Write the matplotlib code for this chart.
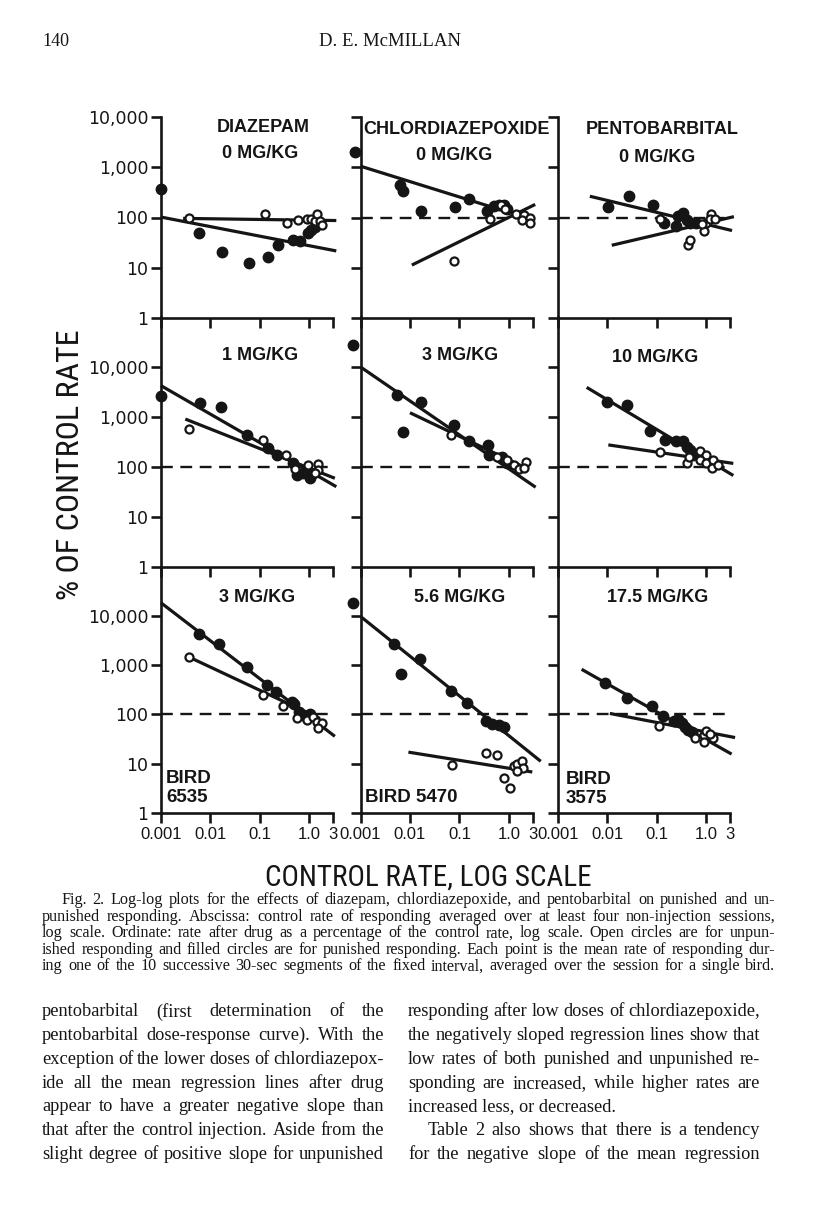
import numpy as np
import matplotlib
matplotlib.use("Agg")
import matplotlib.pyplot as plt
from matplotlib.ticker import FixedLocator, FixedFormatter, NullLocator
from matplotlib import font_manager

# page size in pixels (dpi = 100)
W, H = 816, 1207
INK = "#151515"

# ---- data (x = control rate, y = % of control rate) ----
# diazepam 0 mg/kg
dz0_fx = [0.001, 0.0059, 0.0168, 0.061, 0.143, 0.228, 0.47, 0.64, 0.95, 1.1, 1.29]
dz0_fy = [374, 50, 20.7, 12.5, 16.5, 29, 35, 34, 50, 56, 65]
dz0_ox = [0.0036, 0.126, 0.346, 0.58, 0.88, 1.1, 1.29, 1.4, 1.63, 1.76]
dz0_oy = [100, 116, 78, 91, 95, 95, 85, 116, 85, 70]
dz0_fit_f = [[0.001, 3.5], [102, 21.6]]
dz0_fit_o = [[0.0028, 3.5], [96, 87]]

# chlordiazepoxide 0 mg/kg
cd0_fx = [0.00077, 0.0063, 0.0074, 0.0169, 0.080, 0.154, 0.363, 0.494, 0.62, 0.79, 0.92]
cd0_fy = [2000, 443, 339, 137, 160, 230, 137, 166, 174, 174, 148]
cd0_ox = [0.076, 0.41, 0.68, 0.85, 1.36, 2.0, 1.86, 2.65, 2.65]
cd0_oy = [13.6, 93, 174, 150, 117, 114, 89, 97, 76]
cd0_fit_f = [[0.001, 2.74], [1050, 93]]
cd0_fit_o = [[0.0109, 3.4], [11.3, 182]]

# pentobarbital 0 mg/kg
pb0_fx = [0.0104, 0.0272, 0.0818, 0.142, 0.242, 0.269, 0.34, 0.398, 0.465, 0.63]
pb0_fy = [160, 265, 174, 76, 68, 109, 121, 89, 79, 76]
pb0_ox = [0.115, 0.43, 0.46, 0.89, 1.0, 1.23, 1.18, 1.49, 0.8]
pb0_oy = [93, 29, 36, 54, 79, 117, 93, 93, 73]
pb0_fit_f = [[0.0044, 3.3], [265, 55]]
pb0_fit_o = [[0.0122, 3.6], [28, 104]]

# diazepam 1 mg/kg
dz1_fx = [0.001, 0.0061, 0.0163, 0.056, 0.147, 0.217, 0.47, 0.55, 0.75, 1.02, 1.1]
dz1_fy = [2660, 1900, 1580, 439, 237, 174, 119, 69, 75, 59, 69]
dz1_ox = [0.0036, 0.117, 0.335, 0.51, 0.95, 1.51, 1.51, 1.29]
dz1_oy = [571, 348, 174, 90, 110, 115, 87, 75]
dz1_fit_f = [[0.001, 3.5], [4220, 40]]
dz1_fit_o = [[0.0031, 3.27], [905, 59]]

# chlordiazepoxide 3 mg/kg
cd1_fx = [0.00071, 0.0054, 0.0074, 0.0169, 0.0766, 0.154, 0.373, 0.39, 0.73, 0.92]
cd1_fy = [28000, 2770, 498, 2000, 681, 322, 275, 172, 160, 117]
cd1_ox = [0.0686, 0.58, 0.92, 1.26, 1.59, 2.17, 2.0]
cd1_oy = [427, 160, 136, 111, 92, 127, 95]
cd1_fit_f = [[0.001, 3.47], [10000, 39]]
cd1_fit_o = [[0.01, 2.35], [1210, 92]]

# pentobarbital 10 mg/kg
pb1_fx = [0.0096, 0.0251, 0.0723, 0.145, 0.242, 0.34, 0.4, 0.465, 0.54]
pb1_fy = [2000, 1740, 529, 347, 322, 322, 255, 217, 172]
pb1_ox = [0.115, 0.4, 0.45, 0.74, 1.0, 0.74, 1.0, 1.33, 1.27, 1.73]
pb1_oy = [195, 122, 160, 208, 172, 136, 122, 136, 95, 111]
pb1_fit_f = [[0.0038, 3.5], [3900, 67]]
pb1_fit_o = [[0.0104, 3.5], [275, 117]]

# diazepam 3 mg/kg
dz2_fx = [0.0059, 0.0149, 0.0538, 0.136, 0.21, 0.436, 0.49, 0.62, 0.75, 1.02]
dz2_fy = [4380, 2750, 903, 404, 292, 178, 165, 112, 99, 100]
dz2_ox = [0.0036, 0.113, 0.296, 0.55, 0.88, 1.19, 1.4, 1.76, 1.47]
dz2_oy = [1480, 243, 148, 86, 79, 89, 70, 67, 54]
dz2_fit_f = [[0.001, 3.27], [18500, 36]]
dz2_fit_o = [[0.0036, 1.63], [1480, 83]]

# chlordiazepoxide 5.6 mg/kg
cd2_fx = [0.00071, 0.0048, 0.0065, 0.016, 0.0677, 0.143, 0.352, 0.46, 0.62, 0.81]
cd2_fy = [18200, 2720, 674, 1310, 298, 175, 74, 63, 61, 55]
cd2_ox = [0.0708, 0.352, 0.58, 0.79, 1.04, 1.26, 1.47, 1.86, 1.95, 1.43]
cd2_oy = [9.6, 16.4, 15.3, 5.2, 3.2, 8.9, 9.9, 11.2, 8.2, 7.0]
cd2_fit_f = [[0.001, 4.4], [9800, 11.2]]
cd2_fit_o = [[0.0093, 2.97], [17.2, 6.8]]

# pentobarbital 17.5 mg/kg
pb2_fx = [0.0089, 0.0244, 0.078, 0.134, 0.22, 0.27, 0.315, 0.37, 0.43, 0.5]
pb2_fy = [444, 218, 150, 95, 74, 81, 66, 57, 49, 44]
pb2_ox = [0.111, 0.59, 0.89, 1.0, 0.89, 1.37, 1.17]
pb2_oy = [59, 33, 39, 46, 28, 33, 40]
pb2_fit_f = [[0.003, 3.23], [826, 15.7]]
pb2_fit_o = [[0.0112, 3.8], [105, 34]]

drugs = ["DIAZEPAM", "CHLORDIAZEPOXIDE", "PENTOBARBITAL"]
doses = [["0 MG/KG", "0 MG/KG", "0 MG/KG"],
         ["1 MG/KG", "3 MG/KG", "10 MG/KG"],
         ["3 MG/KG", "5.6 MG/KG", "17.5 MG/KG"]]
birds = ["BIRD\n6535", "BIRD 5470", "BIRD\n3575"]
x_ticks = [0.001, 0.01, 0.1, 1.0, 3]
x_ticklabels = ["0.001", "0.01", "0.1", "1.0", "3"]
y_ticks = [1, 10, 100, 1000, 10000]
y_ticklabels = ["1", "10", "100", "1,000", "10,000"]

panels = [
    [(dz0_fx, dz0_fy, dz0_ox, dz0_oy, dz0_fit_f, dz0_fit_o),
     (cd0_fx, cd0_fy, cd0_ox, cd0_oy, cd0_fit_f, cd0_fit_o),
     (pb0_fx, pb0_fy, pb0_ox, pb0_oy, pb0_fit_f, pb0_fit_o)],
    [(dz1_fx, dz1_fy, dz1_ox, dz1_oy, dz1_fit_f, dz1_fit_o),
     (cd1_fx, cd1_fy, cd1_ox, cd1_oy, cd1_fit_f, cd1_fit_o),
     (pb1_fx, pb1_fy, pb1_ox, pb1_oy, pb1_fit_f, pb1_fit_o)],
    [(dz2_fx, dz2_fy, dz2_ox, dz2_oy, dz2_fit_f, dz2_fit_o),
     (cd2_fx, cd2_fy, cd2_ox, cd2_oy, cd2_fit_f, cd2_fit_o),
     (pb2_fx, pb2_fy, pb2_ox, pb2_oy, pb2_fit_f, pb2_fit_o)],
]

# fonts: a condensed sans for the big axis titles if one is installed
fonts = font_manager.fontManager.ttflist
names = {f.name for f in fonts}
LAB_KW = dict(family="Liberation Sans")
ylab_size, xlab_size = 19.5, 17
for cand in ["Liberation Sans Narrow", "Roboto Condensed", "Open Sans Condensed"]:
    if cand in names:
        LAB_KW = dict(family=cand)
        ylab_size, xlab_size = 23, 21
        break
else:
    if any(f.name == "DejaVu Sans" and str(f.stretch) == "condensed" for f in fonts):
        LAB_KW = dict(family="DejaVu Sans", stretch="condensed")
        ylab_size, xlab_size = 21, 19
SANS = "Liberation Sans"
SERIF = "Liberation Serif"


def fx(px):
    return px / W


def fy(py):
    return 1 - py / H


fig = plt.figure(figsize=(W / 100, H / 100), dpi=100)
fig.patch.set_facecolor("white")

# axes frames in page pixels
col_left = [161, 360.5, 558]
col_w = 172
row_top = [117, 317, 566.7]
row_bot = [318, 566.7, 813]
row_ymax = [1e4, 1e5, 1e5]

for r in range(3):
    for c in range(3):
        ax = fig.add_axes([fx(col_left[c]), fy(row_bot[r]),
                           col_w / W, (row_bot[r] - row_top[r]) / H])
        ax.set_xscale("log")
        ax.set_yscale("log")
        ax.set_xlim(0.001, 3)
        ax.set_ylim(1, row_ymax[r])
        ax.patch.set_alpha(0)
        for s in ["top", "right"]:
            ax.spines[s].set_visible(False)
        for s in ["left", "bottom"]:
            ax.spines[s].set_linewidth(1.9)
            ax.spines[s].set_color(INK)
        ax.xaxis.set_major_locator(FixedLocator(x_ticks))
        ax.yaxis.set_major_locator(FixedLocator(y_ticks))
        ax.xaxis.set_minor_locator(NullLocator())
        ax.yaxis.set_minor_locator(NullLocator())
        ax.tick_params(direction="out", length=7, width=1.9, color=INK,
                       labelcolor=INK, pad=2)
        if c == 0:
            ax.yaxis.set_major_formatter(FixedFormatter(y_ticklabels))
            ax.tick_params(axis="y", labelsize=12.5)
            for t in ax.get_yticklabels():
                t.set_family("DejaVu Sans")
        else:
            ax.set_yticklabels([])
        if r == 2:
            ax.xaxis.set_major_formatter(FixedFormatter(x_ticklabels))
            ax.tick_params(axis="x", labelsize=12, pad=3)
            for t in ax.get_xticklabels():
                t.set_family(SANS)
        else:
            ax.set_xticklabels([])

        f_x, f_y, o_x, o_y, fit_f, fit_o = panels[r][c]
        if not (r == 0 and c == 0):
            ax.plot([0.001, 3.2], [100, 100], "--", color=INK, lw=1.7,
                    dashes=(5, 3.2), clip_on=False, zorder=2)
        ax.plot(fit_f[0], fit_f[1], "-", color=INK, lw=2.3,
                clip_on=False, zorder=3, solid_capstyle="butt")
        ax.plot(fit_o[0], fit_o[1], "-", color=INK, lw=2.3,
                clip_on=False, zorder=3, solid_capstyle="butt")
        ax.plot(f_x, f_y, "o", ms=7.5, color=INK, mec=INK,
                clip_on=False, zorder=4)
        ax.plot(o_x, o_y, "o", ms=5.8, mfc="white", mec=INK, mew=1.6,
                clip_on=False, zorder=5)

# panel titles
title_kw = dict(family=SANS, weight="bold", fontsize=13, color=INK,
                ha="center", va="center")
fig.text(fx(263), fy(127), drugs[0], **title_kw)
fig.text(fx(457), fy(129), drugs[1], **title_kw)
fig.text(fx(662), fy(130), drugs[2], **title_kw)
fig.text(fx(260), fy(154), doses[0][0], **title_kw)
fig.text(fx(454), fy(155), doses[0][1], **title_kw)
fig.text(fx(657), fy(157), doses[0][2], **title_kw)
fig.text(fx(260), fy(355), doses[1][0], **title_kw)
fig.text(fx(460), fy(356), doses[1][1], **title_kw)
fig.text(fx(655), fy(357), doses[1][2], **title_kw)
fig.text(fx(257), fy(597), doses[2][0], **title_kw)
fig.text(fx(460), fy(597), doses[2][1], **title_kw)
fig.text(fx(658), fy(598), doses[2][2], **title_kw)

bird_kw = dict(family=SANS, weight="bold", fontsize=13.5, color=INK,
               ha="left", va="top", linespacing=1.15)
fig.text(fx(166), fy(770), birds[0], **bird_kw)
fig.text(fx(365), fy(789), birds[1], **bird_kw)
fig.text(fx(566), fy(771), birds[2], **bird_kw)

# axis titles
fig.text(fx(71), fy(465), "% OF CONTROL RATE", fontsize=ylab_size,
         color=INK, rotation=90, ha="center", va="center", **LAB_KW)
fig.text(fx(428), fy(878), "CONTROL RATE, LOG SCALE", fontsize=xlab_size,
         color=INK, ha="center", va="center", **LAB_KW)

# page header
fig.text(fx(42), fy(41), "140", family=SERIF, fontsize=13, color=INK,
         ha="left", va="center")
fig.text(fx(390), fy(41), "D. E. McMILLAN", family=SERIF, fontsize=13.5,
         color=INK, ha="center", va="center")

# caption and body text, justified like the printed page
renderer = fig.canvas.get_renderer()


def word_width(s, **kw):
    t = fig.text(0, 0, s, **kw)
    w = t.get_window_extent(renderer).width
    t.remove()
    return w


def put_line(s, xl, xr, y, justify, **kw):
    if not justify:
        fig.text(fx(xl), fy(y), s, ha="left", va="center", **kw)
        return
    words = s.split(" ")
    ws = [word_width(w, **kw) for w in words]
    gap = max((xr - xl - sum(ws)) / (len(words) - 1), 2.5)
    x = xl
    for w, wd in zip(words, ws):
        fig.text(fx(x), fy(y), w, ha="left", va="center", **kw)
        x += wd + gap


caption = [
    "Fig. 2. Log-log plots for the effects of diazepam, chlordiazepoxide, and pentobarbital on punished and un-",
    "punished responding. Abscissa: control rate of responding averaged over at least four non-injection sessions,",
    "log scale. Ordinate: rate after drug as a percentage of the control rate, log scale. Open circles are for unpun-",
    "ished responding and filled circles are for punished responding. Each point is the mean rate of responding dur-",
    "ing one of the 10 successive 30-sec segments of the fixed interval, averaged over the session for a single bird.",
]
cap_kw = dict(family=SERIF, fontsize=11.6, color=INK)
for i, line in enumerate(caption):
    xl = 61 if i == 0 else 42
    put_line(line, xl, 775, 900 + 16.6 * i, True, **cap_kw)

body_left = [
    "pentobarbital (first determination of the",
    "pentobarbital dose-response curve). With the",
    "exception of the lower doses of chlordiazepox-",
    "ide all the mean regression lines after drug",
    "appear to have a greater negative slope than",
    "that after the control injection. Aside from the",
    "slight degree of positive slope for unpunished",
]
body_right = [
    "responding after low doses of chlordiazepoxide,",
    "the negatively sloped regression lines show that",
    "low rates of both punished and unpunished re-",
    "sponding are increased, while higher rates are",
    "increased less, or decreased.",
    "Table 2 also shows that there is a tendency",
    "for the negative slope of the mean regression",
]
body_kw = dict(family=SERIF, fontsize=13.2, color=INK)
for i, line in enumerate(body_left):
    put_line(line, 42, 384, 1012 + 23.7 * i, True, **body_kw)
for i, line in enumerate(body_right):
    xl = 428 if i == 5 else 408
    put_line(line, xl, 760, 1012 + 23.7 * i, i != 4, **body_kw)

fig.savefig("out.png", dpi=100, facecolor="white")
